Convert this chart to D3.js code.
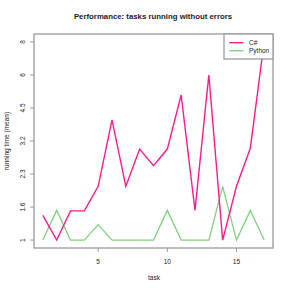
<!DOCTYPE html>
<html>
<head>
<meta charset="utf-8">
<script src="https://cdn.jsdelivr.net/npm/d3@7"></script>
<style>
  body { margin: 0; background: #fff; }
  text { font-family: "Liberation Sans", Arial, sans-serif; fill: #222; }
</style>
</head>
<body>
<script>
var width = 291;
var height = 291;

// data
var tasks = d3.range(1, 18);
var csharp = [1.45, 1, 1.53, 1.53, 2.04, 4.03, 2.04, 2.98, 2.53, 2.98, 5.09, 1.54, 6, 1, 2.04, 3.0, 8];
var python = [1, 1.54, 1, 1, 1.28, 1, 1, 1, 1, 1.54, 1, 1, 1, 2.04, 1, 1.54, 1];
var yTicks = [1, 1.6, 2.3, 3.2, 4.5, 6, 8];
var xTicks = [5, 10, 15];
var seriesNames = ["C#", "Python"];
var colors = ["#ff1a8c", "#80d080"];

var box = {left: 34, right: 273, top: 34, bottom: 248};

var svg = d3.select("body").append("svg")
    .attr("width", width)
    .attr("height", height);

// x: 1..17 with R's 4% padding
var x = d3.scaleLinear()
    .domain([1 - 16 * 0.04, 17 + 16 * 0.04])
    .range([box.left, box.right]);

// y ticks are evenly spaced, so map tick values piecewise
var step = (box.bottom - box.top) / (6 * 1.08);
var pad = step * 6 * 0.04;
var y = d3.scaleLinear()
    .domain(yTicks)
    .range(yTicks.map(function(d, i) { return box.bottom - pad - i * step; }));

var grey = "#9a9a9a";

svg.append("rect")
    .attr("x", box.left).attr("y", box.top)
    .attr("width", box.right - box.left).attr("height", box.bottom - box.top)
    .attr("fill", "none").attr("stroke", grey).attr("stroke-width", 1.3);

// y axis
var yAxis = svg.append("g").attr("class", "yaxis");
yAxis.selectAll("line").data(yTicks).enter().append("line")
    .attr("x1", box.left - 4).attr("x2", box.left)
    .attr("y1", function(d) { return y(d); }).attr("y2", function(d) { return y(d); })
    .attr("stroke", grey).attr("stroke-width", 1);
yAxis.selectAll("text").data(yTicks).enter().append("text")
    .attr("transform", function(d) { return "translate(25," + y(d) + ") rotate(-90)"; })
    .attr("text-anchor", "middle")
    .style("font-size", "6.5px")
    .text(function(d) { return d; });

// x axis
var xAxis = svg.append("g").attr("class", "xaxis");
xAxis.selectAll("line").data(xTicks).enter().append("line")
    .attr("x1", function(d) { return x(d); }).attr("x2", function(d) { return x(d); })
    .attr("y1", box.bottom).attr("y2", box.bottom + 4)
    .attr("stroke", grey).attr("stroke-width", 1);
xAxis.selectAll("text").data(xTicks).enter().append("text")
    .attr("x", function(d) { return x(d); })
    .attr("y", 263.5)
    .attr("text-anchor", "middle")
    .style("font-size", "6.5px")
    .text(function(d) { return d; });

// titles
svg.append("text")
    .attr("x", 153).attr("y", 18.5)
    .attr("text-anchor", "middle")
    .style("font-size", "7.8px").style("font-weight", "bold")
    .text("Performance: tasks running without errors");
svg.append("text")
    .attr("x", 154).attr("y", 280)
    .attr("text-anchor", "middle")
    .style("font-size", "6.5px")
    .text("task");
svg.append("text")
    .attr("transform", "translate(9,141) rotate(-90)")
    .attr("text-anchor", "middle")
    .style("font-size", "6.5px")
    .text("running time (mean)");

// lines
var line = d3.line()
    .x(function(d, i) { return x(tasks[i]); })
    .y(function(d) { return y(d); });

svg.append("path").datum(python)
    .attr("d", line)
    .attr("fill", "none").attr("stroke", colors[1]).attr("stroke-width", 1.3);
svg.append("path").datum(csharp)
    .attr("d", line)
    .attr("fill", "none").attr("stroke", colors[0]).attr("stroke-width", 1.4);

// legend
var legend = svg.append("g").attr("class", "legend");
legend.append("rect")
    .attr("x", 224).attr("y", box.top)
    .attr("width", box.right - 224).attr("height", 25)
    .attr("fill", "#fff").attr("stroke", grey).attr("stroke-width", 1.3);
seriesNames.forEach(function(name, i) {
    var ly = 42.7 + i * 8;
    legend.append("line")
        .attr("x1", 229.3).attr("x2", 243.3)
        .attr("y1", ly).attr("y2", ly)
        .attr("stroke", colors[i]).attr("stroke-width", 1.4);
    legend.append("text")
        .attr("x", 249).attr("y", ly)
        .attr("dy", "0.35em")
        .style("font-size", "6.5px")
        .text(name);
});
</script>
</body>
</html>
